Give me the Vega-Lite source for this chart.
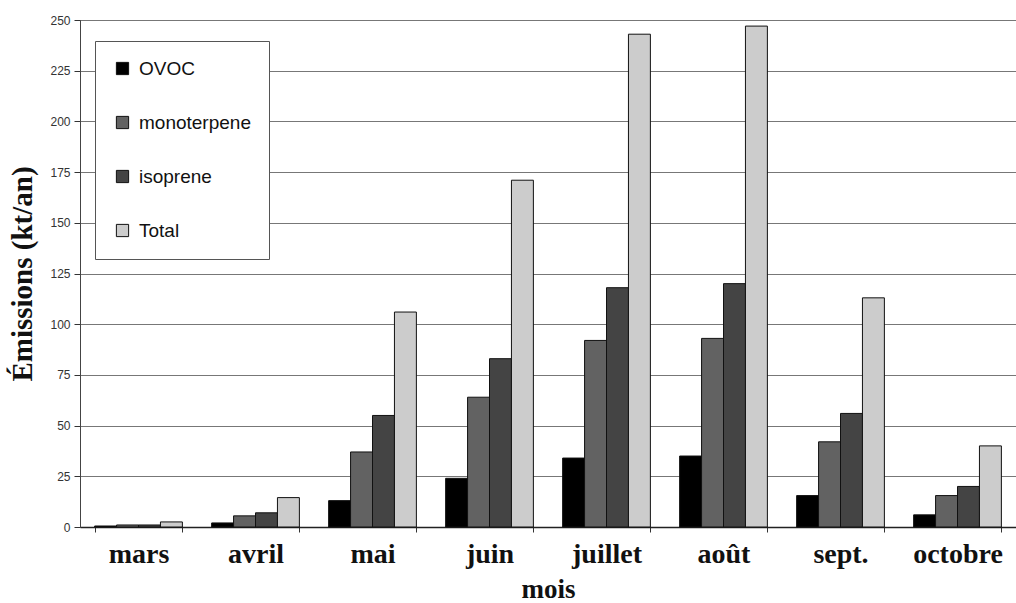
{
  "$schema": "https://vega.github.io/schema/vega-lite/v6.json",
  "autosize": "none",
  "width": 936,
  "height": 507,
  "padding": {"left": 80, "top": 20, "right": 0, "bottom": 76},
  "background": "white",
  "config": {
    "view": {"stroke": "#555", "strokeWidth": 1},
    "font": "Liberation Sans"
  },
  "data": {
    "values": [
      {"mois": "mars", "type": "OVOC", "val": 0.5},
      {"mois": "mars", "type": "monoterpene", "val": 1},
      {"mois": "mars", "type": "isoprene", "val": 1},
      {"mois": "mars", "type": "Total", "val": 2.5},
      {"mois": "avril", "type": "OVOC", "val": 2},
      {"mois": "avril", "type": "monoterpene", "val": 5.5},
      {"mois": "avril", "type": "isoprene", "val": 7},
      {"mois": "avril", "type": "Total", "val": 14.5},
      {"mois": "mai", "type": "OVOC", "val": 13},
      {"mois": "mai", "type": "monoterpene", "val": 37},
      {"mois": "mai", "type": "isoprene", "val": 55},
      {"mois": "mai", "type": "Total", "val": 106},
      {"mois": "juin", "type": "OVOC", "val": 24},
      {"mois": "juin", "type": "monoterpene", "val": 64},
      {"mois": "juin", "type": "isoprene", "val": 83},
      {"mois": "juin", "type": "Total", "val": 171},
      {"mois": "juillet", "type": "OVOC", "val": 34},
      {"mois": "juillet", "type": "monoterpene", "val": 92},
      {"mois": "juillet", "type": "isoprene", "val": 118},
      {"mois": "juillet", "type": "Total", "val": 243},
      {"mois": "août", "type": "OVOC", "val": 35},
      {"mois": "août", "type": "monoterpene", "val": 93},
      {"mois": "août", "type": "isoprene", "val": 120},
      {"mois": "août", "type": "Total", "val": 247},
      {"mois": "sept.", "type": "OVOC", "val": 15.5},
      {"mois": "sept.", "type": "monoterpene", "val": 42},
      {"mois": "sept.", "type": "isoprene", "val": 56},
      {"mois": "sept.", "type": "Total", "val": 113},
      {"mois": "octobre", "type": "OVOC", "val": 6},
      {"mois": "octobre", "type": "monoterpene", "val": 15.5},
      {"mois": "octobre", "type": "isoprene", "val": 20},
      {"mois": "octobre", "type": "Total", "val": 40}
    ]
  },
  "mark": {"type": "bar", "stroke": "#111", "strokeWidth": 1},
  "encoding": {
    "x": {
      "field": "mois",
      "type": "nominal",
      "sort": ["mars", "avril", "mai", "juin", "juillet", "août", "sept.", "octobre"],
      "scale": {"paddingInner": 0.25, "paddingOuter": 0.125},
      "axis": {
        "title": "mois",
        "titleFont": "Liberation Serif",
        "titleFontSize": 27,
        "titleFontWeight": "bold",
        "titleColor": "#111",
        "titlePadding": 8,
        "labelFont": "Liberation Serif",
        "labelFontSize": 28,
        "labelFontWeight": "bold",
        "labelColor": "#111",
        "labelAngle": 0,
        "labelPadding": 8,
        "tickBand": "extent",
        "tickSize": 5,
        "tickColor": "#333",
        "domainColor": "#222",
        "domainWidth": 1.5
      }
    },
    "xOffset": {
      "field": "type",
      "type": "nominal",
      "sort": ["OVOC", "monoterpene", "isoprene", "Total"],
      "scale": {"paddingInner": 0}
    },
    "y": {
      "field": "val",
      "type": "quantitative",
      "scale": {"domain": [0, 250], "nice": false},
      "axis": {
        "title": "Émissions (kt/an)",
        "titleFont": "Liberation Serif",
        "titleFontSize": 29,
        "titleFontWeight": "bold",
        "titleColor": "#111",
        "titlePadding": 12,
        "values": [0, 25, 50, 75, 100, 125, 150, 175, 200, 225, 250],
        "labelFontSize": 12,
        "labelColor": "#333",
        "labelPadding": 4,
        "tickSize": 6,
        "tickColor": "#333",
        "domainColor": "#444",
        "grid": true,
        "gridColor": "#777",
        "gridWidth": 1
      }
    },
    "fill": {
      "field": "type",
      "type": "nominal",
      "sort": ["OVOC", "monoterpene", "isoprene", "Total"],
      "scale": {
        "domain": ["OVOC", "monoterpene", "isoprene", "Total"],
        "range": ["#000000", "#626262", "#444444", "#cccccc"]
      },
      "legend": {
        "title": null,
        "orient": "none",
        "legendX": 15,
        "legendY": 21,
        "symbolType": "square",
        "symbolSize": 150,
        "symbolStrokeColor": "#111",
        "symbolStrokeWidth": 1,
        "labelFontSize": 19,
        "labelColor": "#111",
        "labelOffset": 7,
        "rowPadding": 34,
        "padding": 18,
        "strokeColor": "#555",
        "fillColor": "white"
      }
    }
  }
}
